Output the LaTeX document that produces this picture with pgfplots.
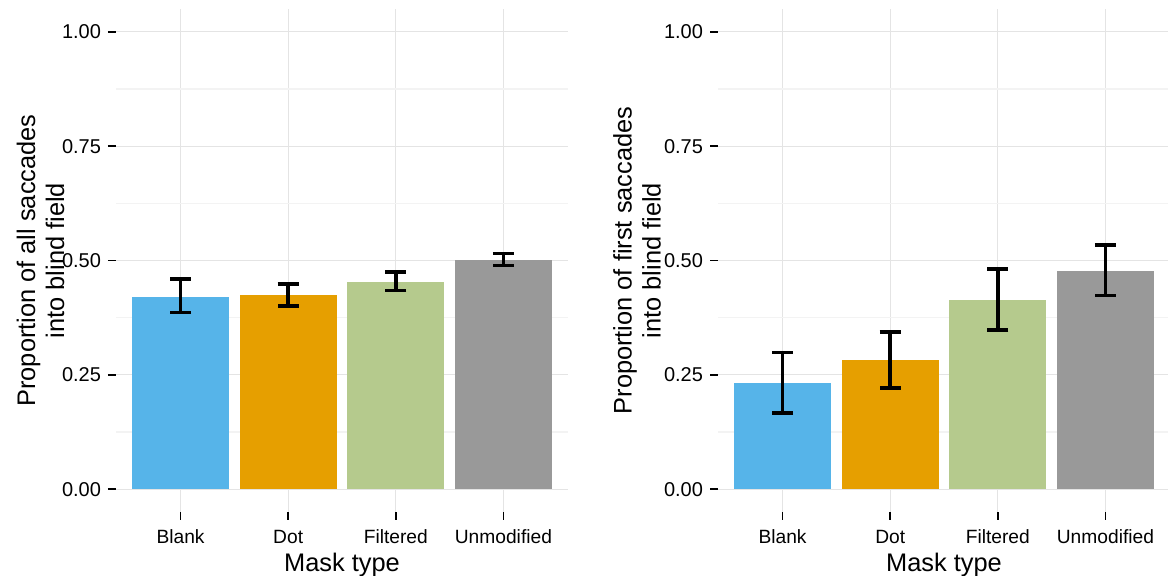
\documentclass[border=0pt]{standalone}
\usepackage{pgfplots}
\pgfplotsset{compat=1.18}
\usepackage{fontspec}
\setmainfont{Liberation Sans}
\definecolor{cBlank}{HTML}{56B4E9}
\definecolor{cDot}{HTML}{E69F00}
\definecolor{cFilt}{HTML}{B5CA8D}
\definecolor{cUnmod}{HTML}{999999}
\definecolor{gmaj}{HTML}{E4E4E4}
\definecolor{gmin}{HTML}{F3F3F3}
\pgfplotsset{
  panel/.style={
    scale only axis, width=226pt, height=251.5pt,
    xmin=0.4, xmax=4.6, ymin=-0.05, ymax=1.05,
    xtick={1,2,3,4}, xticklabels={Blank,Dot,Filtered,Unmodified},
    ytick={0,0.25,0.5,0.75,1}, yticklabels={0.00,0.25,0.50,0.75,1.00},
    minor ytick={0.125,0.375,0.625,0.875},
    xmajorgrids, ymajorgrids, yminorgrids,
    major grid style={gmaj, line width=0.6pt},
    minor grid style={gmin, line width=0.6pt},
    axis line style={draw=none},
    tick align=outside, xtick pos=left, ytick pos=left,
    major tick length=4pt, minor tick length=0pt,
    every tick/.style={black, line width=0.8pt},
    yticklabel style={font=\fontsize{10}{12}\selectfont, black},
    xticklabel style={font=\fontsize{9.6}{11}\selectfont, black, yshift=-1.5pt},
    label style={font=\fontsize{12.7}{14.5}\selectfont},
    xlabel style={at={(axis description cs:0.5,0)}, anchor=center, yshift=-26.5pt},
    ybar, bar width=0.9,
    error bars/y dir=both, error bars/y explicit,
    error bars/error mark=-,
    error bars/error bar style={black, line width=1.8pt},
    error bars/error mark options={black, line width=1.8pt, mark size=5.25pt, rotate=90},
  },
}
\begin{document}
\begin{tikzpicture}
\useasboundingbox (0,0) rectangle (584pt,288pt);
% Left panel: all saccades
\begin{axis}[panel, at={(58pt,32pt)}, anchor=south west,
  xlabel={Mask type},
  ylabel={Proportion of all saccades\\into blind field},
  ylabel style={at={(axis description cs:0,0.5)}, anchor=center, align=center, yshift=37.75pt}]
\addplot[fill=cBlank, draw=none, bar shift=0pt] coordinates {(1,0.421) += (0,0.039) -= (0,0.035)};
\addplot[fill=cDot, draw=none, bar shift=0pt] coordinates {(2,0.424) += (0,0.024) -= (0,0.024)};
\addplot[fill=cFilt, draw=none, bar shift=0pt] coordinates {(3,0.454) += (0,0.021) -= (0,0.020)};
\addplot[fill=cUnmod, draw=none, bar shift=0pt] coordinates {(4,0.500) += (0,0.015) -= (0,0.011)};
\end{axis}
% Right panel: first saccades
\begin{axis}[panel, at={(359pt,32pt)}, anchor=south west,
  xlabel={Mask type},
  ylabel={Proportion of first saccades\\into blind field},
  ylabel style={at={(axis description cs:0,0.5)}, anchor=center, align=center, yshift=40.5pt}]
\addplot[fill=cBlank, draw=none, bar shift=0pt] coordinates {(1,0.231) += (0,0.068) -= (0,0.065)};
\addplot[fill=cDot, draw=none, bar shift=0pt] coordinates {(2,0.283) += (0,0.060) -= (0,0.062)};
\addplot[fill=cFilt, draw=none, bar shift=0pt] coordinates {(3,0.413) += (0,0.068) -= (0,0.065)};
\addplot[fill=cUnmod, draw=none, bar shift=0pt] coordinates {(4,0.477) += (0,0.057) -= (0,0.054)};
\end{axis}
\end{tikzpicture}
\end{document}
